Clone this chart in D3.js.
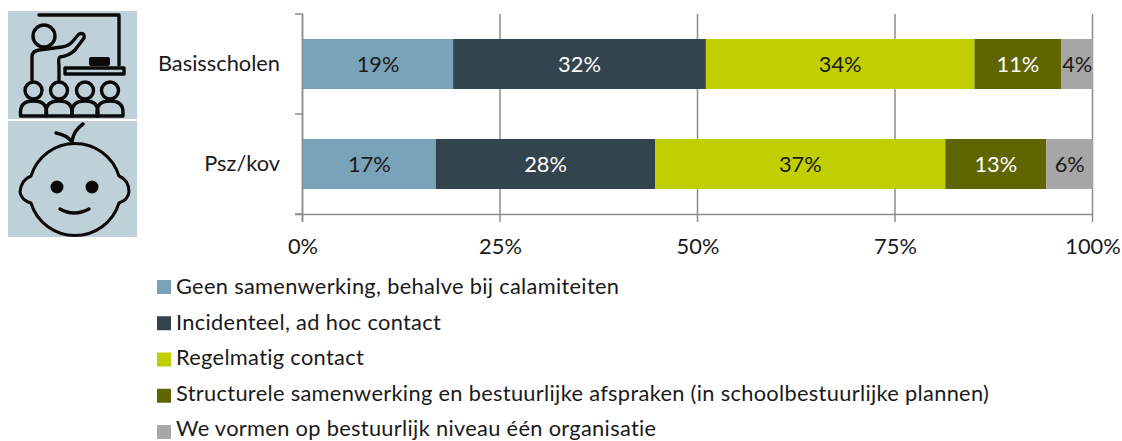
<!DOCTYPE html>
<html><head><meta charset="utf-8">
<script src="https://cdn.jsdelivr.net/npm/d3@7"></script>
<style>html,body{margin:0;padding:0;background:#fff}svg{display:block}
text{font-family:Lato,sans-serif;fill:#1a1a1a}</style></head>
<body><svg id="c" width="1122" height="441"></svg>
<script>
const categories = ["Basisscholen", "Psz/kov"];
const seriesNames = [
  "Geen samenwerking, behalve bij calamiteiten",
  "Incidenteel, ad hoc contact",
  "Regelmatig contact",
  "Structurele samenwerking en bestuurlijke afspraken (in schoolbestuurlijke plannen)",
  "We vormen op bestuurlijk niveau één organisatie"
];
const basisscholen = [19, 32, 34, 11, 4];
const pszKov = [16.8, 27.8, 36.7, 12.8, 5.9];
const colors = ["#78a3b8", "#33444f", "#c1cf00", "#5f6500", "#a6a6a6"];
const labelColors = ["#1a1a1a", "#fff", "#1a1a1a", "#fff", "#1a1a1a"];
const xTicks = [0, 25, 50, 75, 100];
const rows = [basisscholen, pszKov];
const fs = 21.8;

const svg = d3.select("#c");
const x = d3.scaleLinear().domain([0, 100]).range([303, 1093]);
const y = d3.scaleBand().domain(categories).range([14, 214]).paddingInner(0.5).paddingOuter(0.25);
const axisColor = "#8c8c8c";

// icons
const ic = svg.append("g");
ic.append("rect").attr("x",8).attr("y",11).attr("width",129).attr("height",108).attr("fill","#c0d0d8");
ic.append("rect").attr("x",8).attr("y",121).attr("width",129).attr("height",116).attr("fill","#c0d0d8");
const st = g => g.attr("fill","none").attr("stroke","#0a0a0a").attr("stroke-width",3.4).attr("stroke-linecap","round").attr("stroke-linejoin","round");
const t = ic.append("g").call(st);
t.append("path").attr("d","M39 15H119V65");
t.append("circle").attr("cx",44).attr("cy",36).attr("r",11);
t.append("path").attr("d","M32 80V57Q32 51 39 50L62 47Q69 46 73 41L79 34Q85 32 84 38L75 50Q69 56 60 57Q58 58 59 66V80");
t.append("path").attr("d","M65 68H124V74H65Z");
ic.append("rect").attr("x",89).attr("y",57).attr("width",21).attr("height",9).attr("rx",2).attr("fill","#0a0a0a");
[33.5, 59, 85, 110].forEach(cx => {
  t.append("circle").attr("cx",cx).attr("cy",90.5).attr("r",8.5);
  t.append("path").attr("d",`M${cx-13} 116V112Q${cx-13} 101 ${cx} 101Q${cx+13} 101 ${cx+13} 112V116Z`);
});
const b = ic.append("g").call(st);
b.append("path").attr("d","M31 176A46 46 0 0 1 119 176Q129 180 129 192Q128 200 119 203A46 46 0 0 1 31 203Q21 200 20 192Q21 180 31 176Z").attr("stroke-width",3);
b.append("path").attr("d","M56 133Q67 135 72 142Q73 131 83 124");
b.append("path").attr("d","M60 209Q74 217 89 209");
ic.append("circle").attr("cx",57).attr("cy",187).attr("r",6.5).attr("fill","#0a0a0a");
ic.append("circle").attr("cx",92).attr("cy",187).attr("r",6.5).attr("fill","#0a0a0a");

// gridlines
svg.append("g").selectAll("line").data(xTicks).join("line")
  .attr("x1",d=>x(d)-.5).attr("x2",d=>x(d)-.5).attr("y1",14).attr("y2",222)
  .attr("stroke",axisColor).attr("stroke-width",1.5);

// bars
categories.forEach((c,i) => {
  let acc = 0;
  const g = svg.append("g");
  const segs = rows[i].map((v,k) => { const s = {v,k,a:acc,b:acc+v}; acc += v; return s; });
  g.selectAll("rect").data(segs).join("rect")
    .attr("x",d=>x(d.a)).attr("width",d=>x(Math.min(d.b,100))-x(d.a))
    .attr("y",y(c)).attr("height",y.bandwidth()).attr("fill",d=>colors[d.k]);
  g.selectAll("text").data(segs).join("text")
    .attr("x",d=>(x(d.a)+x(Math.min(d.b,100)))/2).attr("y",y(c)+y.bandwidth()/2+8)
    .attr("text-anchor","middle").attr("font-size",fs)
    .style("fill",d=>labelColors[d.k]).text(d=>Math.round(d.v)+"%");
});

// axes
const yAx = svg.append("g");
yAx.append("line").attr("x1",302.5).attr("x2",302.5).attr("y1",14).attr("y2",222).attr("stroke",axisColor).attr("stroke-width",1.5);
yAx.selectAll(".t").data([14,114,214]).join("line").attr("class","t")
  .attr("x1",295).attr("x2",303).attr("y1",d=>d).attr("y2",d=>d).attr("stroke",axisColor).attr("stroke-width",1.5);
svg.append("line").attr("x1",295).attr("x2",1093).attr("y1",214.5).attr("y2",214.5).attr("stroke",axisColor).attr("stroke-width",1.5);

svg.append("g").selectAll("text").data(categories).join("text")
  .attr("x",280).attr("y",d=>y(d)+y.bandwidth()/2+7).attr("text-anchor","end").attr("font-size",fs).text(d=>d);
svg.append("g").selectAll("text").data(xTicks).join("text")
  .attr("x",d=>x(d)).attr("y",253.5).attr("text-anchor","middle").attr("font-size",fs).text(d=>d+"%");

// legend
const lg = svg.append("g").selectAll("g").data(seriesNames).join("g");
lg.append("rect").attr("x",157).attr("y",(d,i)=>280+i*36.25).attr("width",14).attr("height",14).attr("fill",(d,i)=>colors[i]);
lg.append("text").attr("x",176).attr("y",(d,i)=>294+i*35.6).attr("font-size",fs).attr("letter-spacing",0.32).text(d=>d);
</script></body></html>
